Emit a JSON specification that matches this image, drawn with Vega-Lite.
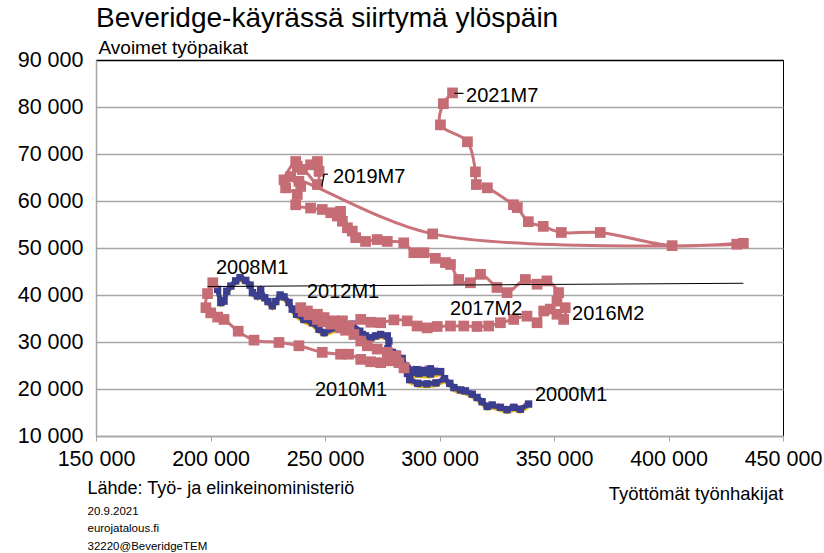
{
  "$schema": "https://vega.github.io/schema/vega-lite/v6.json",
  "width": 687,
  "height": 376,
  "autosize": {"type": "none"},
  "padding": {"left": 96, "top": 60, "right": 41, "bottom": 117},
  "background": "white",
  "title": {"text": "Beveridge-käyrässä siirtymä ylöspäin", "anchor": "start", "frame": "group", "font": "Liberation Sans", "fontSize": 28, "fontWeight": "normal", "color": "#000", "offset": 5},
  "config": {"view": {"stroke": "#000", "strokeWidth": 1}, "font": "Liberation Sans"},
  "datasets": {
    "blue": [
      {"i":1,"u":338900,"v":16800},{"i":2,"u":335300,"v":15700},{"i":3,"u":332400,"v":16100},{"i":4,"u":329500,"v":15600},{"i":5,"u":326600,"v":16100},{"i":6,"u":323000,"v":16600},{"i":7,"u":320800,"v":16300},{"i":8,"u":318600,"v":17300},{"i":9,"u":316400,"v":18200},{"i":10,"u":314300,"v":18900},{"i":11,"u":311300,"v":19600},{"i":12,"u":309200,"v":19800},{"i":13,"u":306300,"v":20300},{"i":14,"u":304500,"v":21200},{"i":15,"u":302200,"v":22200},{"i":16,"u":298500,"v":21300},{"i":17,"u":294500,"v":21100},{"i":18,"u":290500,"v":21200},{"i":19,"u":287000,"v":22000},{"i":20,"u":286000,"v":23300},{"i":21,"u":291000,"v":23300},{"i":22,"u":296000,"v":23200},{"i":23,"u":300500,"v":23700},{"i":24,"u":296000,"v":24300},{"i":25,"u":290000,"v":24100},{"i":26,"u":285900,"v":24400},{"i":27,"u":285200,"v":24900},{"i":28,"u":283700,"v":26500},{"i":29,"u":281500,"v":27400},{"i":30,"u":279400,"v":27800},{"i":31,"u":277500,"v":28600},{"i":32,"u":277900,"v":30200},{"i":33,"u":277200,"v":31300},{"i":34,"u":274300,"v":31600},{"i":35,"u":272100,"v":31300},{"i":36,"u":270000,"v":30900},{"i":37,"u":267700,"v":31300},{"i":38,"u":266300,"v":31600},{"i":39,"u":265200,"v":32300},{"i":40,"u":261800,"v":33800},{"i":41,"u":259000,"v":33000},{"i":42,"u":256800,"v":33400},{"i":43,"u":255400,"v":33100},{"i":44,"u":249600,"v":32000},{"i":45,"u":247400,"v":32700},{"i":46,"u":244500,"v":34100},{"i":47,"u":240800,"v":34800},{"i":48,"u":237600,"v":35900},{"i":49,"u":235700,"v":37000},{"i":50,"u":234300,"v":38400},{"i":51,"u":232100,"v":39600},{"i":52,"u":230400,"v":40000},{"i":53,"u":228500,"v":38600},{"i":54,"u":227000,"v":37700},{"i":55,"u":225100,"v":38600},{"i":56,"u":223700,"v":39400},{"i":57,"u":221900,"v":41000},{"i":58,"u":220500,"v":39800},{"i":59,"u":218300,"v":40500},{"i":60,"u":217300,"v":42100},{"i":61,"u":215400,"v":43100},{"i":62,"u":212900,"v":43700},{"i":63,"u":211000,"v":43000},{"i":64,"u":208900,"v":41900},{"i":65,"u":207100,"v":40800},{"i":66,"u":205900,"v":38700},{"i":67,"u":204500,"v":38400},{"i":68,"u":203100,"v":41200}
    ],
    "red": [
      {"i":1,"u":201000,"v":42600},{"i":2,"u":198700,"v":40300},{"i":3,"u":198000,"v":37300},{"i":4,"u":200100,"v":36200},{"i":5,"u":203100,"v":35300},{"i":6,"u":205900,"v":34800},{"i":7,"u":212100,"v":32300},{"i":8,"u":219000,"v":30400},{"i":9,"u":229900,"v":29900},{"i":10,"u":238600,"v":29200},{"i":11,"u":248800,"v":27800},{"i":12,"u":256800,"v":27400},{"i":13,"u":260300,"v":27400},{"i":14,"u":265600,"v":26300},{"i":15,"u":269900,"v":25800},{"i":16,"u":274300,"v":25600},{"i":17,"u":278600,"v":26000},{"i":18,"u":282300,"v":25600},{"i":19,"u":284500,"v":24500},{"i":20,"u":281000,"v":27000},{"i":21,"u":277200,"v":27800},{"i":22,"u":272800,"v":28500},{"i":23,"u":268500,"v":29200},{"i":24,"u":265600,"v":30200},{"i":25,"u":262600,"v":31600},{"i":26,"u":259000,"v":32500},{"i":27,"u":256800,"v":33000},{"i":28,"u":252500,"v":33800},{"i":29,"u":249000,"v":34300},{"i":30,"u":246700,"v":34800},{"i":31,"u":243000,"v":35800},{"i":32,"u":240500,"v":36500},{"i":33,"u":239400,"v":37300},{"i":34,"u":242300,"v":36600},{"i":35,"u":246700,"v":35900},{"i":36,"u":249600,"v":35200},{"i":37,"u":254000,"v":34500},{"i":38,"u":257600,"v":34500},{"i":39,"u":260500,"v":33400},{"i":40,"u":265600,"v":34800},{"i":41,"u":270000,"v":34200},{"i":42,"u":274300,"v":34100},{"i":43,"u":280100,"v":34700},{"i":44,"u":285900,"v":34500},{"i":45,"u":290200,"v":33400},{"i":46,"u":294600,"v":33000},{"i":47,"u":299000,"v":33300},{"i":48,"u":304800,"v":33400},{"i":49,"u":310600,"v":33400},{"i":50,"u":316400,"v":33300},{"i":51,"u":321500,"v":33400},{"i":52,"u":326600,"v":34100},{"i":53,"u":332400,"v":34800},{"i":54,"u":338200,"v":35500},{"i":55,"u":342600,"v":34100},{"i":56,"u":345500,"v":36600},{"i":57,"u":348400,"v":37000},{"i":58,"u":351300,"v":35900},{"i":59,"u":354200,"v":34800},{"i":60,"u":354900,"v":37300},{"i":61,"u":351300,"v":38700},{"i":62,"u":352000,"v":40500},{"i":63,"u":346900,"v":43000},{"i":64,"u":342600,"v":42300},{"i":65,"u":337500,"v":43300},{"i":66,"u":329500,"v":40500},{"i":67,"u":325100,"v":41600},{"i":68,"u":317900,"v":44400},{"i":69,"u":313500,"v":42600},{"i":70,"u":308400,"v":43300},{"i":71,"u":304800,"v":46500},{"i":72,"u":302600,"v":46900},{"i":73,"u":298200,"v":47800},{"i":74,"u":293200,"v":49000},{"i":75,"u":288800,"v":49000},{"i":76,"u":284400,"v":51100},{"i":77,"u":277200,"v":51400},{"i":78,"u":272800,"v":51800},{"i":79,"u":267700,"v":51400},{"i":80,"u":263400,"v":52200},{"i":81,"u":261900,"v":53600},{"i":82,"u":259800,"v":54300},{"i":83,"u":257600,"v":55700},{"i":84,"u":256800,"v":57800},{"i":85,"u":255400,"v":56800},{"i":86,"u":252500,"v":57500},{"i":87,"u":248800,"v":58200},{"i":88,"u":243700,"v":58500},{"i":89,"u":237200,"v":59200},{"i":90,"u":237900,"v":61400},{"i":91,"u":232800,"v":62800},{"i":92,"u":232100,"v":64500},{"i":93,"u":237200,"v":68400},{"i":94,"u":237900,"v":67400},{"i":95,"u":243700,"v":67700},{"i":96,"u":246700,"v":68400},{"i":97,"u":247400,"v":66300},{"i":98,"u":246700,"v":63500},{"i":99,"u":240100,"v":66700},{"i":100,"u":235000,"v":65200},{"i":101,"u":239400,"v":63100},{"i":102,"u":238600,"v":64200},{"i":103,"u":297000,"v":53000},{"i":104,"u":429800,"v":50800},{"i":105,"u":432700,"v":51000},{"i":106,"u":401600,"v":50500},{"i":107,"u":370200,"v":53300},{"i":108,"u":353200,"v":53300},{"i":109,"u":345300,"v":54600},{"i":110,"u":338800,"v":55600},{"i":111,"u":334000,"v":58600},{"i":112,"u":332300,"v":59200},{"i":113,"u":320900,"v":62800},{"i":114,"u":316100,"v":63500},{"i":115,"u":315700,"v":66200},{"i":116,"u":312200,"v":72600},{"i":117,"u":300400,"v":76200},{"i":118,"u":301700,"v":80700},{"i":119,"u":305700,"v":83000}
    ],
    "trend": [{"u":198700,"v":41800},{"u":432700,"v":42500}],
    "labels": [
      {"u":311600,"v":82300,"t":"2021M7"},{"u":253500,"v":65100,"t":"2019M7"},{"u":202400,"v":45700,"t":"2008M1"},{"u":242100,"v":40600,"t":"2012M1"},{"u":304600,"v":37000,"t":"2017M2"},{"u":357900,"v":36000,"t":"2016M2"},{"u":245600,"v":19800,"t":"2010M1"},{"u":341700,"v":18700,"t":"2000M1"}
    ],
    "leaders": [
      {"u":248600,"v":63100,"u2":249600,"v2":65700},{"u":249600,"v":65700,"u2":251300,"v2":65700},{"u":306500,"v":82900,"u2":310500,"v2":82900}
    ]
  },
  "layer": [
    {
      "layer": [
        {
          "data": {"name": "blue"},
          "mark": {"type": "line", "color": "#e2b50f", "strokeWidth": 3, "yOffset": 3},
          "encoding": {
            "x": {"field": "u", "type": "quantitative", "scale": {"domain": [150000, 450000], "nice": false, "zero": false},
              "axis": {"orient": "bottom", "values": [150000, 200000, 250000, 300000, 350000, 400000, 450000], "labelExpr": "floor(datum.value/1000) + ' 000'", "labelFontSize": 21.5, "labelColor": "#000", "labelPadding": 7, "labelFlush": false, "labelOverlap": false, "tickSize": 5, "tickColor": "#a6a6a6", "domainColor": "#a6a6a6", "domainWidth": 1.5, "grid": false,
                "title": "Työttömät työnhakijat", "titleFont": "Liberation Sans", "titleFontSize": 18.5, "titleFontWeight": "normal", "titleColor": "#000", "titleX": 687, "titleY": 63, "titleAlign": "right", "titleBaseline": "alphabetic"}},
            "y": {"field": "v", "type": "quantitative", "scale": {"domain": [10000, 90000], "nice": false, "zero": false},
              "axis": {"orient": "left", "values": [10000, 15000, 20000, 25000, 30000, 35000, 40000, 45000, 50000, 55000, 60000, 65000, 70000, 75000, 80000, 85000, 90000], "labelExpr": "floor(datum.value/1000) + ' 000'", "labelFontSize": 21.5, "labelColor": "#000", "labelPadding": 13, "labelFlush": false, "labelOverlap": false, "ticks": false, "domainColor": "#a6a6a6", "domainWidth": 1.5,
                "grid": true, "gridColor": {"condition": {"test": "datum.value == 90000", "value": "#000000"}, "value": "#a6a6a6"}, "gridWidth": 1.5,
                "title": "Avoimet työpaikat", "titleFontSize": 19, "titleFontWeight": "normal", "titleColor": "#000", "titleAngle": 0, "titleX": 2, "titleY": -7, "titleAlign": "left", "titleBaseline": "alphabetic"}},
            "order": {"field": "i", "type": "quantitative"}
          }
        },
        {
          "data": {"name": "blue"},
          "mark": {"type": "line", "color": "#ff5a9a", "strokeWidth": 1.5, "strokeDash": [1.5, 2.5], "yOffset": -3},
          "encoding": {
            "x": {"field": "u", "type": "quantitative", "scale": {"domain": [150000, 450000], "nice": false, "zero": false}},
            "y": {"field": "v", "type": "quantitative", "scale": {"domain": [10000, 90000], "nice": false, "zero": false}},
            "order": {"field": "i", "type": "quantitative"}
          }
        },
        {
          "data": {"name": "blue"},
          "mark": {"type": "line", "color": "#3b3e8e", "strokeWidth": 5},
          "encoding": {
            "x": {"field": "u", "type": "quantitative", "scale": {"domain": [150000, 450000], "nice": false, "zero": false}},
            "y": {"field": "v", "type": "quantitative", "scale": {"domain": [10000, 90000], "nice": false, "zero": false}},
            "order": {"field": "i", "type": "quantitative"}
          }
        },
        {
          "data": {"name": "blue"},
          "mark": {"type": "point", "shape": "square", "filled": true, "size": 55, "color": "#3b3e8e", "opacity": 1},
          "encoding": {
            "x": {"field": "u", "type": "quantitative", "scale": {"domain": [150000, 450000], "nice": false, "zero": false}},
            "y": {"field": "v", "type": "quantitative", "scale": {"domain": [10000, 90000], "nice": false, "zero": false}}
          }
        },
        {
          "data": {"name": "red"},
          "mark": {"type": "line", "color": "#c9727a", "strokeWidth": 3, "interpolate": "catmull-rom"},
          "encoding": {
            "x": {"field": "u", "type": "quantitative", "scale": {"domain": [150000, 450000], "nice": false, "zero": false}},
            "y": {"field": "v", "type": "quantitative", "scale": {"domain": [10000, 90000], "nice": false, "zero": false}},
            "order": {"field": "i", "type": "quantitative"}
          }
        },
        {
          "data": {"name": "red"},
          "mark": {"type": "point", "shape": "square", "filled": true, "size": 115, "color": "#c66c74", "opacity": 1},
          "encoding": {
            "x": {"field": "u", "type": "quantitative", "scale": {"domain": [150000, 450000], "nice": false, "zero": false}},
            "y": {"field": "v", "type": "quantitative", "scale": {"domain": [10000, 90000], "nice": false, "zero": false}}
          }
        },
        {
          "data": {"name": "leaders"},
          "mark": {"type": "rule", "color": "#000", "strokeWidth": 1.2},
          "encoding": {
            "x": {"field": "u", "type": "quantitative", "scale": {"domain": [150000, 450000], "nice": false, "zero": false}},
            "y": {"field": "v", "type": "quantitative", "scale": {"domain": [10000, 90000], "nice": false, "zero": false}},
            "x2": {"field": "u2"},
            "y2": {"field": "v2"}
          }
        },
        {
          "data": {"name": "labels"},
          "mark": {"type": "text", "align": "left", "baseline": "middle", "fontSize": 20, "font": "Liberation Sans", "color": "#000"},
          "encoding": {
            "x": {"field": "u", "type": "quantitative", "scale": {"domain": [150000, 450000], "nice": false, "zero": false}},
            "y": {"field": "v", "type": "quantitative", "scale": {"domain": [10000, 90000], "nice": false, "zero": false}},
            "text": {"field": "t", "type": "nominal"}
          }
        }
      ]
    },
    {
      "data": {"name": "trend"},
      "mark": {"type": "line", "color": "#000", "strokeWidth": 1},
      "encoding": {
        "x": {"field": "u", "type": "quantitative", "scale": {"domain": [150000, 450000], "nice": false, "zero": false},
          "axis": {"orient": "top", "labels": false, "ticks": false, "domain": false, "grid": false,
            "title": ["20.9.2021", "eurojatalous.fi", "32220@BeveridgeTEM"], "titleFont": "Liberation Sans", "titleFontSize": 11.5, "titleFontWeight": "normal", "titleColor": "#000", "titleLineHeight": 17.5, "titleX": -9, "titleY": 445, "titleAlign": "left", "titleBaseline": "top"}},
        "y": {"field": "v", "type": "quantitative", "scale": {"domain": [10000, 90000], "nice": false, "zero": false},
          "axis": {"orient": "right", "labels": false, "ticks": false, "domain": false, "grid": false,
            "title": "Lähde: Työ- ja elinkeinoministeriö", "titleFont": "Liberation Sans", "titleFontSize": 18, "titleFontWeight": "normal", "titleColor": "#000", "titleAngle": 0, "titleX": -696, "titleY": 433, "titleAlign": "left", "titleBaseline": "alphabetic"}}
      }
    }
  ],
  "resolve": {"scale": {"x": "independent", "y": "independent"}}
}
